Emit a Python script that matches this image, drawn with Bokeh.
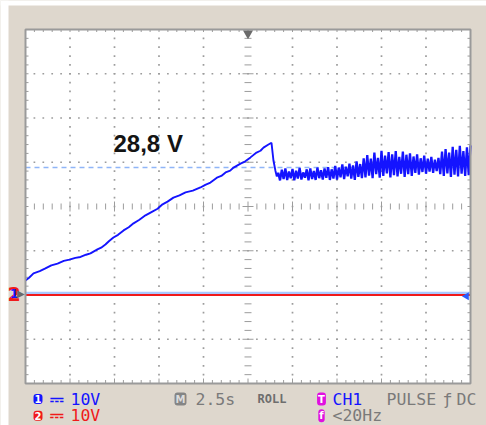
import math
from bokeh.plotting import figure
from bokeh.models import Range1d, Label
from bokeh.embed import file_html
from bokeh.resources import INLINE

# ---- scope settings -------------------------------------------------------
SEC_PER_DIV = 2.5
VOLT_PER_DIV = 10
N_XDIV, N_YDIV = 10, 8
Y_BOTTOM = -20.0            # CH1 ground sits two divisions above the bottom

# ---- CH1 record: charging ramp, then regulation ripple (s, V) -------------
ramp_t = [0.00, 0.20, 0.45, 0.80, 1.12, 1.45, 1.80, 2.15, 2.47, 2.80, 3.09,
          3.40, 3.65, 4.04, 4.25, 4.49, 4.70, 4.94, 5.20, 5.51, 5.80, 6.07,
          6.40, 6.74, 7.10, 7.42, 7.70, 7.98, 8.31, 8.65, 8.99, 9.40, 9.83,
          10.10, 10.39, 10.79, 11.00, 11.24, 11.50, 11.69, 12.08, 12.35,
          12.64, 12.98, 13.20, 13.37, 13.65, 13.82, 13.93, 14.04, 14.12]
ramp_v = [3.3, 3.9, 4.9, 5.4, 6.0, 6.7, 7.1, 7.7, 8.0, 8.4, 8.6,
          9.1, 9.4, 10.3, 10.7, 11.4, 12.2, 13.0, 13.6, 14.6, 15.3, 16.2,
          17.0, 18.0, 18.8, 19.5, 20.5, 21.1, 22.0, 22.5, 23.2, 23.6, 24.3,
          24.9, 25.4, 26.6, 26.9, 27.7, 28.1, 28.8, 29.7, 30.2,
          31.1, 32.2, 32.6, 33.3, 34.0, 34.4, 30.4, 28.1, 26.8]

ripple_t = [14.2, 14.3, 14.4, 14.5, 14.6, 14.7, 14.8, 14.9, 15.0, 15.1,
            15.2, 15.3, 15.4, 15.5, 15.6, 15.7, 15.8, 15.9, 16.0, 16.1,
            16.2, 16.3, 16.4, 16.5, 16.6, 16.7, 16.8, 16.9, 17.0, 17.1,
            17.2, 17.3, 17.4, 17.5, 17.6, 17.7, 17.8, 17.9, 18.0, 18.1,
            18.2, 18.3, 18.4, 18.5, 18.6, 18.7, 18.8, 18.9, 19.0, 19.1,
            19.2, 19.3, 19.4, 19.5, 19.6, 19.7, 19.8, 19.9, 20.0, 20.1,
            20.2, 20.3, 20.4, 20.5, 20.6, 20.7, 20.8, 20.9, 21.0, 21.1,
            21.2, 21.3, 21.4, 21.5, 21.6, 21.7, 21.8, 21.9, 22.0, 22.1,
            22.2, 22.3, 22.4, 22.5, 22.6, 22.7, 22.8, 22.9, 23.0, 23.1,
            23.2, 23.3, 23.4, 23.5, 23.6, 23.7, 23.8, 23.9, 24.0, 24.1,
            24.2, 24.3, 24.4, 24.5, 24.6, 24.7, 24.8, 24.9, 25.0]
ripple_v = [27.6, 25.9, 28.3, 26.2, 28.6, 26.0, 27.9, 26.4, 28.5, 25.9,
            28.1, 26.3, 28.7, 26.1, 27.7, 26.5, 28.4, 25.9, 28.6, 26.2,
            28.0, 26.0, 28.8, 26.4, 28.2, 26.1, 28.6, 26.5, 28.9, 26.0,
            28.4, 26.3, 29.2, 26.1, 28.8, 26.6, 29.5, 26.2, 29.0, 26.8,
            29.7, 26.3, 29.3, 26.0, 30.2, 26.7, 29.6, 26.4, 30.9, 26.6,
            31.6, 27.0, 30.8, 26.4, 32.2, 27.3, 31.0, 26.5, 32.6, 26.9,
            31.5, 27.5, 32.3, 26.6, 31.8, 27.1, 32.5, 26.8, 31.2, 27.4,
            32.4, 26.7, 31.7, 27.3, 32.0, 26.9, 31.3, 27.6, 31.8, 27.2,
            30.9, 27.8, 31.5, 27.4, 30.8, 27.9, 31.2, 27.6, 30.6, 28.0,
            31.0, 27.3, 32.4, 26.9, 33.0, 27.5, 32.2, 26.7, 33.5, 27.2,
            32.8, 26.8, 33.7, 27.4, 32.5, 26.9, 33.4, 27.1, 33.8]

cursor_level = 28.8
cursor_label = "28,8 V"
trig_level = 0.4            # CH1 trigger level line
ch2_level = 0.0             # CH2 flat at ground

# readout texts
ch1_scale = "10V"
ch2_scale = "10V"
timebase = "2.5s"
mode = "ROLL"
trig_src = "CH1"
trig_type = "PULSE"
trig_slope = "\u0192"
trig_cpl = "DC"
trig_freq = "<20Hz"

# ---- page geometry (pixels) ----------------------------------------------
PAGE_W, PAGE_H = 486, 425
PAD_L, PAD_T = 8, 5                     # white strip around the bezel
FRAME_L, FRAME_T = 25, 29               # graticule position on the page
FRAME_W, FRAME_H = 445, 354

x_max = SEC_PER_DIV * N_XDIV
y_top = Y_BOTTOM + VOLT_PER_DIV * N_YDIV
PX_PER_S = FRAME_W / x_max
PX_PER_V = FRAME_H / (y_top - Y_BOTTOM)


def at_x(px):
    return (px - FRAME_L) / PX_PER_S


def at_y(py):
    return y_top - (py - FRAME_T) / PX_PER_V


BEZEL = "#ded7cd"
GRID = "#9c9c9c"
BLUE = "#1414ff"
RED = "#f01a1a"
GREY_TXT = "#7a7a7a"
MAGENTA = "#e010e0"

# the plot frame covers the whole page so the bezel readouts stay visible
p = figure(width=PAGE_W, height=PAGE_H,
           x_range=Range1d(at_x(0), at_x(PAGE_W)),
           y_range=Range1d(at_y(PAGE_H), at_y(0)),
           x_axis_location=None, y_axis_location=None,
           toolbar_location=None, output_backend="svg",
           min_border=0)
p.xgrid.visible = False
p.ygrid.visible = False
p.background_fill_color = BEZEL
p.border_fill_color = BEZEL
p.outline_line_color = None

# white page margin
p.quad(left=[at_x(0)], right=[at_x(PAD_L)], bottom=[at_y(PAGE_H)],
       top=[at_y(0)], fill_color="white", line_color=None)
p.quad(left=[at_x(0)], right=[at_x(PAGE_W)], bottom=[at_y(PAD_T)],
       top=[at_y(0)], fill_color="white", line_color=None)

# screen
p.quad(left=[0], right=[x_max], bottom=[Y_BOTTOM], top=[y_top],
       fill_color="white", line_color=None)

# ---- graticule ------------------------------------------------------------
minor_x = SEC_PER_DIV / 5
minor_y = VOLT_PER_DIV / 5
cx = x_max / 2
cy = (Y_BOTTOM + y_top) / 2

dot_x, dot_y = [], []
for k in range(1, N_XDIV):
    if k == N_XDIV // 2:
        continue
    for j in range(1, N_YDIV * 5):
        dot_x.append(k * SEC_PER_DIV)
        dot_y.append(Y_BOTTOM + j * minor_y)
for k in range(1, N_YDIV):
    if k == N_YDIV // 2:
        continue
    for j in range(1, N_XDIV * 5):
        dot_x.append(j * minor_x)
        dot_y.append(Y_BOTTOM + k * VOLT_PER_DIV)
p.scatter(dot_x, dot_y, marker="square", size=1.7, fill_color=GRID,
          line_color=None)

# centre cross: tick marks only
hx = [j * minor_x for j in range(1, N_XDIV * 5)]
hs = [10 if j % 5 == 0 else 6 for j in range(1, N_XDIV * 5)]
p.scatter(hx, [cy] * len(hx), marker="dash", angle=math.pi / 2, size=hs,
          line_color=GRID, line_width=1)
vy = [Y_BOTTOM + j * minor_y for j in range(1, N_YDIV * 5)]
vs = [11 if j % 5 == 0 else 7 for j in range(1, N_YDIV * 5)]
p.scatter([cx] * len(vy), vy, marker="dash", size=vs, line_color=GRID,
          line_width=1)

# edge ticks, pointing into the screen
tick_v = 3.5 / PX_PER_V
tick_s = 3 / PX_PER_S
long_v = 5 / PX_PER_V
p.segment(x0=hx, x1=hx, y0=[Y_BOTTOM] * len(hx),
          y1=[Y_BOTTOM + (long_v if j % 5 == 0 else tick_v)
              for j in range(1, N_XDIV * 5)],
          line_color=GRID, line_width=1)
p.segment(x0=hx, x1=hx, y0=[y_top] * len(hx),
          y1=[y_top - 2.5 / PX_PER_V] * len(hx),
          line_color=GRID, line_width=1)
p.segment(x0=[x_max] * len(vy), x1=[x_max - tick_s] * len(vy),
          y0=vy, y1=vy, line_color=GRID, line_width=1)
p.segment(x0=[0] * len(vy), x1=[tick_s] * len(vy),
          y0=vy, y1=vy, line_color=GRID, line_width=1)

# ---- reference lines ------------------------------------------------------
p.segment(x0=[0], x1=[x_max], y0=[cursor_level], y1=[cursor_level],
          line_color="#8fb5f7", line_width=1.5, line_dash="5 4")
p.segment(x0=[0], x1=[x_max], y0=[trig_level], y1=[trig_level],
          line_color="#a9c8ff", line_width=3)
p.segment(x0=[0], x1=[x_max], y0=[ch2_level], y1=[ch2_level],
          line_color=RED, line_width=2)

# ---- CH1 trace ------------------------------------------------------------
p.line(ramp_t, ramp_v, line_color=BLUE, line_width=1.9)
p.line([ramp_t[-1]] + ripple_t, [ramp_v[-1]] + ripple_v, line_color=BLUE,
       line_width=2.3)

# screen border
p.quad(left=[0], right=[x_max], bottom=[Y_BOTTOM], top=[y_top],
       fill_color=None, line_color="#9a9a9a", line_width=2)

# trigger markers
p.scatter([cx], [y_top - 4 / PX_PER_V], marker="inverted_triangle",
          size=10, fill_color="#6a6a6a", line_color=None)
p.scatter([x_max - 4 / PX_PER_S], [ch2_level - 0.3], marker="triangle",
          angle=math.pi / 2, size=8, fill_color="#2a5cff", line_color=None)

# ---- annotations ----------------------------------------------------------
p.add_layout(Label(x=at_x(113), y=at_y(156), text=cursor_label,
                   text_font="Liberation Sans", text_font_style="bold",
                   text_font_size="24px", text_color="#141414"))

# ground markers left of the screen
p.add_layout(Label(x=at_x(7), y=at_y(293), text="2",
                   text_font="DejaVu Sans", text_font_style="bold",
                   text_font_size="19px", text_color=RED,
                   text_baseline="middle"))
p.add_layout(Label(x=at_x(9.5), y=at_y(293), text="1",
                   text_font="DejaVu Sans", text_font_style="bold",
                   text_font_size="12px", text_color=BLUE,
                   text_baseline="middle"))
p.add_layout(Label(x=at_x(16.5), y=at_y(293), text="\u25b6",
                   text_font="DejaVu Sans", text_font_size="10px",
                   text_color="#6a6a6a", text_baseline="middle"))

MONO = "DejaVu Sans Mono"


def badge(px, py, txt, bg, fg="white"):
    p.add_layout(Label(x=at_x(px), y=at_y(py), text=txt,
                       text_font="DejaVu Sans", text_font_style="bold",
                       text_font_size="10px", text_color=fg,
                       text_align="center", text_baseline="middle",
                       background_fill_color=bg, border_radius=3,
                       padding=1))


def readout(px, py, txt, color, size="16.5px", style="normal"):
    p.add_layout(Label(x=at_x(px), y=at_y(py), text=txt, text_font=MONO,
                       text_font_size=size, text_font_style=style,
                       text_color=color, text_baseline="middle"))


ROW1, ROW2 = 398.5, 415.3
badge(37.5, ROW1, "1", BLUE)
readout(49, ROW1, "\u2393", BLUE, style="bold")
readout(70, ROW1, ch1_scale, BLUE)
badge(37.5, ROW2, "2", RED)
readout(49, ROW2, "\u2393", RED, style="bold")
readout(70, ROW2, ch2_scale, RED)

badge(180, ROW1, "M", "#858585", "#dcdcdc")
readout(195, ROW1, timebase, GREY_TXT)
readout(257, ROW1, mode, "#6e6e6e", size="12px", style="bold")

badge(321, ROW1, "T", MAGENTA)
readout(332, ROW1, trig_src, BLUE)
readout(386, ROW1, trig_type, GREY_TXT)
readout(442, ROW1, trig_slope, GREY_TXT)
readout(456, ROW1, trig_cpl, GREY_TXT)
badge(321, ROW2, "f", MAGENTA)
readout(332, ROW2, trig_freq, GREY_TXT)

open("out.html", "w").write(file_html(p, INLINE))
